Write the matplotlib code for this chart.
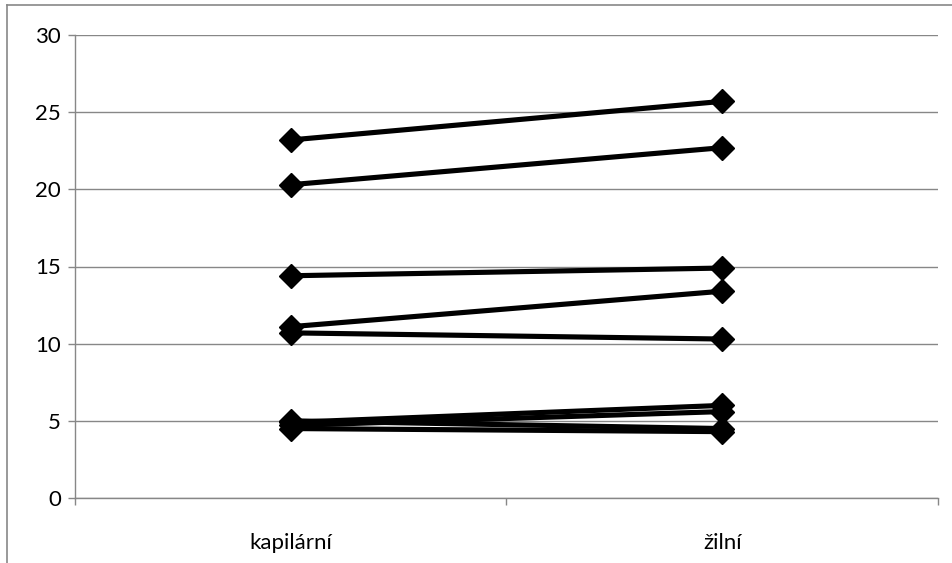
import matplotlib
matplotlib.use("Agg")
import matplotlib.pyplot as plt
from matplotlib.lines import Line2D

categories = ["kapilární", "žilní"]
kapilarni = [23.2, 20.3, 14.4, 11.1, 10.7, 4.9, 4.7, 5.0, 4.5]
zilni = [25.7, 22.7, 14.9, 13.4, 10.3, 6.0, 5.6, 4.5, 4.3]
yticks = [0, 5, 10, 15, 20, 25, 30]

plt.rcParams['font.family'] = ['Lato', 'DejaVu Sans']

fig = plt.figure(figsize=(9.53, 5.63), dpi=100)
ax = fig.add_axes([75/953, 65/563, (938-75)/953, (498-35)/563])

grid_c = '#878787'
xs = [0.5, 1.5]
for a, b in zip(kapilarni, zilni):
    ax.plot(xs, [a, b], color='black', lw=3.7, marker='D', markersize=12,
            markerfacecolor='black', markeredgecolor='black', zorder=3,
            solid_capstyle='butt')

ax.set_xlim(0, 2)
ax.set_ylim(0, 30)
ax.set_yticks(yticks)
ax.set_yticklabels([str(t) for t in yticks], fontsize=16)
ax.yaxis.grid(True, color=grid_c, lw=1)
ax.set_axisbelow(True)

ax.set_xticks([0, 1, 2])
ax.set_xticklabels(['', '', ''])
ax.set_xticks(xs, minor=True)
ax.set_xticklabels(categories, minor=True, fontsize=16)
ax.tick_params(axis='x', which='minor', length=0, pad=25)
ax.tick_params(axis='x', which='major', length=5, color=grid_c, width=1)
ax.tick_params(axis='y', length=5, color=grid_c, width=1, pad=5)

for s in ['top', 'right']:
    ax.spines[s].set_visible(False)
for s in ['left', 'bottom']:
    ax.spines[s].set_color(grid_c)
    ax.spines[s].set_linewidth(1)

# outer chart frame (top and left edges visible)
fig.add_artist(Line2D([7/953, 1.0], [1 - 5/563, 1 - 5/563], color=grid_c, lw=1.2,
                      transform=fig.transFigure))
fig.add_artist(Line2D([7/953, 7/953], [0, 1 - 5/563], color=grid_c, lw=1.2,
                      transform=fig.transFigure))

fig.savefig("out.png", dpi=100)
